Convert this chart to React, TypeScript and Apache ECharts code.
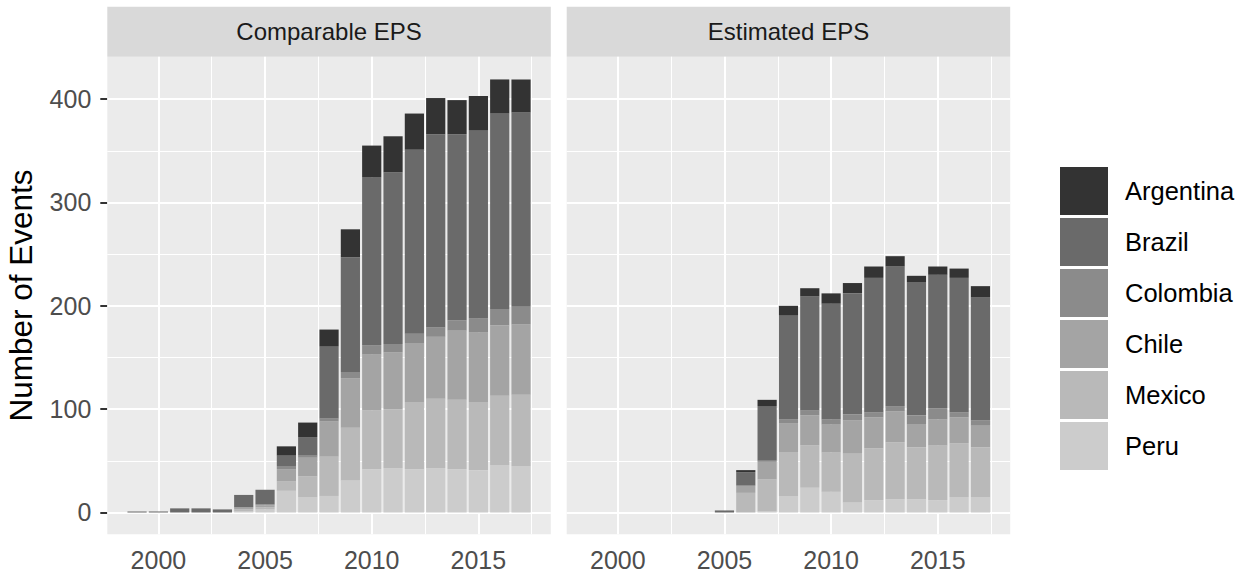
import React, { useEffect, useRef } from "react";
import * as echarts from "echarts";

const years = [1999, 2000, 2001, 2002, 2003, 2004, 2005, 2006, 2007, 2008, 2009, 2010, 2011, 2012, 2013, 2014, 2015, 2016, 2017];
const countries = ["Argentina", "Brazil", "Colombia", "Chile", "Mexico", "Peru"];
const fills = ["#333333", "#6A6A6A", "#8B8B8B", "#A4A4A4", "#B9B9B9", "#CCCCCC"];
const panelTitles = ["Comparable EPS", "Estimated EPS"];

// Comparable EPS
const compArgentina = [0, 0, 0, 0, 0, 0, 0, 9, 14, 16, 27, 31, 35, 35, 35, 33, 33, 33, 32];
const compBrazil = [1, 1, 4, 4, 3, 12, 14, 10, 18, 70, 111, 162, 166, 178, 187, 180, 182, 189, 188];
const compColombia = [0, 0, 0, 0, 0, 0, 1, 3, 2, 3, 6, 9, 8, 9, 9, 10, 14, 16, 17];
const compChile = [0, 0, 0, 0, 0, 2, 2, 12, 18, 34, 48, 54, 55, 57, 60, 67, 67, 68, 68];
const compMexico = [0, 0, 0, 0, 0, 2, 2, 9, 20, 38, 51, 57, 57, 65, 67, 67, 66, 67, 69];
const compPeru = [0, 0, 0, 0, 0, 1, 3, 21, 15, 16, 31, 42, 43, 42, 43, 42, 41, 46, 45];

// Estimated EPS
const estArgentina = [0, 0, 0, 0, 0, 0, 0, 2, 6, 9, 8, 10, 10, 11, 10, 6, 8, 9, 11];
const estBrazil = [0, 0, 0, 0, 0, 0, 2, 13, 53, 101, 110, 112, 117, 130, 135, 129, 129, 130, 119];
const estColombia = [0, 0, 0, 0, 0, 0, 0, 0, 1, 4, 5, 5, 6, 5, 5, 9, 11, 5, 5];
const estChile = [0, 0, 0, 0, 0, 0, 0, 7, 17, 28, 29, 27, 32, 30, 30, 22, 25, 25, 21];
const estMexico = [0, 0, 0, 0, 0, 0, 0, 19, 31, 42, 41, 38, 47, 50, 55, 50, 53, 52, 48];
const estPeru = [0, 0, 0, 0, 0, 0, 0, 0, 1, 16, 24, 20, 10, 12, 13, 13, 12, 15, 15];

const yTicks = [0, 100, 200, 300, 400];
const yMinor = [50, 150, 250, 350];
const xTicks = [2000, 2005, 2010, 2015];
const xMinor = [2002.5, 2007.5, 2012.5, 2017.5];

const FONT = "'Liberation Sans', Arial, Helvetica, sans-serif";

export default function App() {
  const ref = useRef<HTMLDivElement>(null);
  useEffect(() => {
    document.body.style.margin = "0";
    if (!ref.current) return;
    const chart = echarts.init(ref.current, undefined, { renderer: "svg" });

    const panelData: Record<string, number[]>[] = [
      { Argentina: compArgentina, Brazil: compBrazil, Colombia: compColombia, Chile: compChile, Mexico: compMexico, Peru: compPeru },
      { Argentina: estArgentina, Brazil: estBrazil, Colombia: estColombia, Chile: estChile, Mexico: estMexico, Peru: estPeru },
    ];

    const gridTop = 56.7;
    const gridH = 477.5;
    const gridW = 443.5;
    const lefts = [107.3, 566.7];

    const series: any[] = [];
    panelData.forEach((pd, pi) => {
      // gridlines via markLine behind bars
      series.push({
        type: "line",
        name: "grid" + pi,
        xAxisIndex: pi,
        yAxisIndex: pi,
        data: [],
        silent: true,
        showSymbol: false,
        markLine: {
          z: 1,
          silent: true,
          symbol: ["none", "none"],
          label: { show: false },
          emphasis: { disabled: true },
          data: [
            ...yMinor.map((v) => ({ yAxis: v, lineStyle: { color: "#FFFFFF", width: 1, type: "solid" } })),
            ...xMinor.map((v) => ({ xAxis: v, lineStyle: { color: "#FFFFFF", width: 1, type: "solid" } })),
            ...yTicks.map((v) => ({ yAxis: v, lineStyle: { color: "#FFFFFF", width: 2, type: "solid" } })),
            ...xTicks.map((v) => ({ xAxis: v, lineStyle: { color: "#FFFFFF", width: 2, type: "solid" } })),
          ],
        },
      });
      // stack bottom to top: Peru ... Argentina
      for (let ci = countries.length - 1; ci >= 0; ci--) {
        const c = countries[ci];
        series.push({
          type: "bar",
          name: c,
          xAxisIndex: pi,
          yAxisIndex: pi,
          stack: "s" + pi,
          barWidth: 19.2,
          z: 2,
          itemStyle: { color: fills[ci] },
          emphasis: { disabled: true },
          // value first so the stacked dimension is the count, year second
          encode: { x: 1, y: 0 },
          data: years.map((y, i) => [pd[c][i], y]),
        });
      }
    });

    const option: any = {
      animation: false,
      backgroundColor: "#FFFFFF",
      textStyle: { fontFamily: FONT },
      grid: lefts.map((l) => ({
        left: l,
        top: gridTop,
        width: gridW,
        height: gridH,
        show: true,
        backgroundColor: "#EBEBEB",
        borderWidth: 0,
        containLabel: false,
      })),
      xAxis: lefts.map((_, i) => ({
        type: "value",
        gridIndex: i,
        min: 1997.605,
        max: 2018.395,
        axisLine: { show: false },
        splitLine: { show: false },
        axisTick: { show: true, customValues: xTicks, length: 7, lineStyle: { color: "#333333", width: 2 } },
        axisLabel: {
          show: true,
          customValues: xTicks,
          margin: 13,
          fontSize: 25,
          color: "#4D4D4D",
          fontFamily: FONT,
          formatter: (v: number) => String(v),
        },
      })),
      yAxis: lefts.map((_, i) => ({
        type: "value",
        gridIndex: i,
        min: -21,
        max: 441,
        axisLine: { show: false },
        splitLine: { show: false },
        axisTick: { show: i === 0, customValues: yTicks, length: 7, lineStyle: { color: "#333333", width: 2 } },
        axisLabel: {
          show: i === 0,
          customValues: yTicks,
          margin: 16,
          fontSize: 25,
          color: "#4D4D4D",
          fontFamily: FONT,
        },
        name: i === 0 ? "Number of Events" : "",
        nameLocation: "middle",
        nameGap: 70,
        nameTextStyle: { fontSize: 31.5, color: "#000000", fontFamily: FONT },
      })),
      legend: {
        show: true,
        orient: "vertical",
        left: 1060,
        top: 167,
        padding: 0,
        itemWidth: 48,
        itemHeight: 48,
        itemGap: 3,
        icon: "rect",
        selectedMode: false,
        data: countries,
        textStyle: { fontSize: 25.5, color: "#000000", fontFamily: FONT, padding: [0, 0, 0, 12] },
      },
      graphic: [
        ...lefts.map((l, i) => ({
          type: "group",
          children: [
            { type: "rect", shape: { x: l, y: 6.7, width: gridW, height: 50 }, style: { fill: "#D9D9D9" }, silent: true },
            {
              type: "text",
              x: l + gridW / 2,
              y: 31.7,
              style: { text: panelTitles[i], fontSize: 24, fill: "#1A1A1A", fontFamily: FONT, align: "center", verticalAlign: "middle" },
              silent: true,
            },
          ],
        })),
      ],
      series,
    };

    chart.setOption(option);
    return () => chart.dispose();
  }, []);

  return <div ref={ref} style={{ width: 1245, height: 577 }} />;
}
